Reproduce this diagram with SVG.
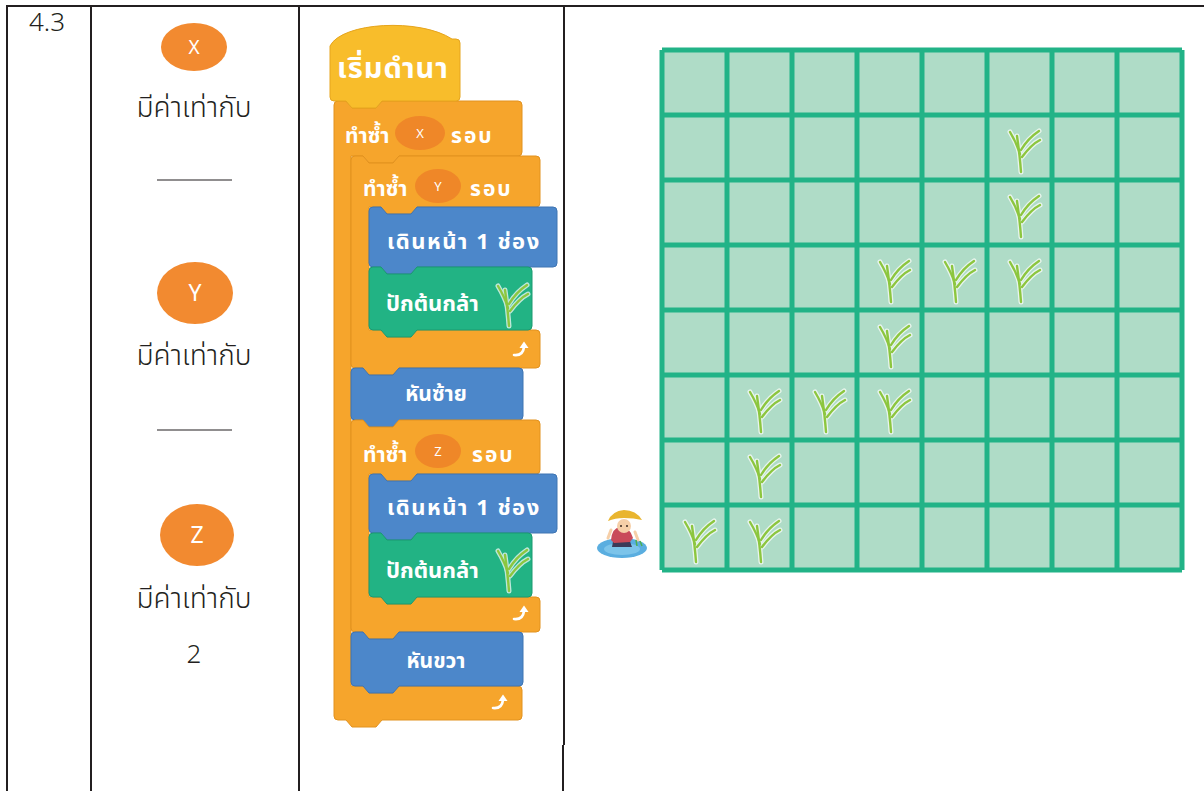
<svg xmlns="http://www.w3.org/2000/svg" xmlns:xlink="http://www.w3.org/1999/xlink" width="1204" height="791" viewBox="0 0 1204 791">
  <style>
    .rule { stroke: #231f20; stroke-width: 2; fill: none; }
    .lbl { font-family: 'Noto Sans Thai', 'Noto Sans', 'DejaVu Sans', sans-serif; fill: #231f20; font-weight: 300; }
    .num { font-family: 'Noto Sans', 'DejaVu Sans', sans-serif; fill: #231f20; font-weight: 300; }
    .var { fill: #f28a30; }
    .vtxt { font-family: 'Noto Sans', 'DejaVu Sans', sans-serif; fill: #ffffff; text-anchor: middle; }
    .blank { stroke: #231f20; stroke-width: 1.2; }
    .hat { fill: #f8bd2b; stroke: #e6a51e; stroke-width: 1; }
    .ctl { fill: #f6a52c; stroke: #e2921f; stroke-width: 1; }
    .mot { fill: #4c87ca; stroke: #3e74b2; stroke-width: 1; }
    .act { fill: #22b384; stroke: #1a9a70; stroke-width: 1; }
    .btxt { font-family: 'Noto Sans Thai', 'Noto Sans', 'DejaVu Sans', sans-serif; fill: #ffffff; font-weight: bold; }
    .slot { fill: #ef8728; }
    .stxt { font-family: 'Noto Sans', 'DejaVu Sans', sans-serif; fill: #ffffff; font-size: 13px; text-anchor: middle; }
    .gridline { stroke: #22b387; stroke-width: 5; fill: none; }
  </style>
  <defs>
    <!-- rice seedling, drawn around its cell centre -->
    <symbol id="seedling" overflow="visible">
      <g fill="none" stroke-linecap="round">
        <g stroke="#ffffff" stroke-width="5" opacity="0.7">
          <path d="M2,24 C1,10 0,2 -2,-12"/>
          <path d="M1,6 C-2,-4 -6,-11 -9,-16"/>
          <path d="M2,2 C8,-8 14,-13 20,-17"/>
          <path d="M3,9 C9,1 15,-5 21,-8"/>
        </g>
        <g stroke="#8cc63f" stroke-width="2.4">
          <path d="M2,24 C1,10 0,2 -2,-12"/>
          <path d="M1,6 C-2,-4 -6,-11 -9,-16"/>
          <path d="M2,2 C8,-8 14,-13 20,-17"/>
          <path d="M3,9 C9,1 15,-5 21,-8"/>
        </g>
      </g>
    </symbol>
    <!-- loop-end arrow of a repeat block -->
    <symbol id="loop" overflow="visible">
      <path d="M-7,5 Q2,6 3,-3" fill="none" stroke="#ffffff" stroke-width="2.6" stroke-linecap="round"/>
      <polygon points="-1.5,-2 7.5,-2 3,-8.5" fill="#ffffff"/>
    </symbol>
  </defs>

  <rect width="1204" height="791" fill="#ffffff"/>

  <!-- table rules -->
  <g id="table">
    <line class="rule" x1="7" y1="6" x2="1204" y2="6"/>
    <line class="rule" x1="7" y1="5" x2="7" y2="791"/>
    <line class="rule" x1="91" y1="6" x2="91" y2="791"/>
    <line class="rule" x1="299" y1="6" x2="299" y2="791"/>
    <line class="rule" x1="564" y1="6" x2="564" y2="745"/>
    <line class="rule" x1="563" y1="745" x2="563" y2="791"/>
  </g>

  <!-- item number -->
  <g id="item-number">
    <text class="num" x="29" y="31" font-size="26">4.3</text>
  </g>

  <!-- variable values -->
  <g id="var-x">
    <ellipse class="var" cx="194" cy="47" rx="33" ry="24"/>
    <text class="vtxt" x="194" y="54" font-size="19">X</text>
    <text class="lbl" x="194" y="117" font-size="28" text-anchor="middle">มีค่าเท่ากับ</text>
    <line class="blank" x1="157" y1="180" x2="232" y2="180"/>
  </g>
  <g id="var-y">
    <ellipse class="var" cx="195" cy="293" rx="38" ry="31"/>
    <text class="vtxt" x="195" y="301" font-size="23">Y</text>
    <text class="lbl" x="194" y="365" font-size="28" text-anchor="middle">มีค่าเท่ากับ</text>
    <line class="blank" x1="157" y1="430" x2="232" y2="430"/>
  </g>
  <g id="var-z">
    <ellipse class="var" cx="197" cy="535" rx="37" ry="31"/>
    <text class="vtxt" x="197" y="543" font-size="23">Z</text>
    <text class="lbl" x="194" y="608" font-size="28" text-anchor="middle">มีค่าเท่ากับ</text>
    <text class="num" x="194" y="663" font-size="26" text-anchor="middle">2</text>
  </g>

  <!-- block program -->
  <g id="program">
    <!-- outer repeat X -->
    <g id="repeat-x">
      <path class="ctl" d="M334,105 Q334,101 338,101 H346 L352,108 H376 L382,101 H518 Q522,101 522,105 V152 Q522,156 518,156 H399 L393,163 H369 L363,156 H351 V686 H363 L369,693 H393 L399,686 H518 Q522,686 522,690 V716 Q522,720 518,720 H382 L376,727 H352 L346,720 H338 Q334,720 334,716 Z"/>
      <text class="btxt" x="345" y="143" font-size="21">ทำซ้ำ</text>
      <ellipse class="slot" cx="420" cy="133" rx="25" ry="17"/>
      <text class="stxt" x="420" y="138">X</text>
      <text class="btxt" x="451" y="143" font-size="21" letter-spacing="2">รอบ</text>
      <use href="#loop" x="500" y="703"/>
    </g>

    <!-- start hat -->
    <g id="start">
      <path class="hat" d="M330,46 C342,22 420,18 452,39 H456 Q460,39 460,43 V97 Q460,101 456,101 H382 L376,108 H352 L346,101 H334 Q330,101 330,97 Z"/>
      <text class="btxt" x="393" y="78" font-size="29" letter-spacing="1" text-anchor="middle">เริ่มดำนา</text>
    </g>

    <!-- repeat Y -->
    <g id="repeat-y">
      <path class="ctl" d="M351,160 Q351,156 355,156 H363 L369,163 H393 L399,156 H536 Q540,156 540,160 V203 Q540,207 536,207 H417 L411,214 H387 L381,207 H369 V330 H381 L387,337 H411 L417,330 H536 Q540,330 540,334 V364 Q540,368 536,368 H399 L393,375 H369 L363,368 H355 Q351,368 351,364 Z"/>
      <text class="btxt" x="363" y="196" font-size="21">ทำซ้ำ</text>
      <ellipse class="slot" cx="438" cy="186" rx="23" ry="17"/>
      <text class="stxt" x="438" y="191">Y</text>
      <text class="btxt" x="470" y="196" font-size="21" letter-spacing="2">รอบ</text>
      <use href="#loop" x="521" y="350"/>
    </g>

    <g id="walk-1">
      <path class="mot" d="M369,211 Q369,207 373,207 H381 L387,214 H411 L417,207 H553 Q557,207 557,211 V263 Q557,267 553,267 H417 L411,274 H387 L381,267 H373 Q369,267 369,263 Z"/>
      <text class="btxt" x="387" y="249" font-size="22" letter-spacing="1.5">เดินหน้า 1 ช่อง</text>
    </g>

    <g id="plant-1">
      <path class="act" d="M369,271 Q369,267 373,267 H381 L387,274 H411 L417,267 H528 Q532,267 532,271 V326 Q532,330 528,330 H417 L411,337 H387 L381,330 H373 Q369,330 369,326 Z"/>
      <text class="btxt" x="386" y="311" font-size="22">ปักต้นกล้า</text>
      <use href="#seedling" x="507" y="302"/>
    </g>

    <g id="turn-left">
      <path class="mot" d="M351,372 Q351,368 355,368 H363 L369,375 H393 L399,368 H519 Q523,368 523,372 V416 Q523,420 519,420 H399 L393,427 H369 L363,420 H355 Q351,420 351,416 Z"/>
      <text class="btxt" x="436" y="401" font-size="21" text-anchor="middle">หันซ้าย</text>
    </g>

    <!-- repeat Z -->
    <g id="repeat-z">
      <path class="ctl" d="M351,424 Q351,420 355,420 H363 L369,427 H393 L399,420 H536 Q540,420 540,424 V470 Q540,474 536,474 H417 L411,481 H387 L381,474 H369 V597 H381 L387,604 H411 L417,597 H536 Q540,597 540,601 V628 Q540,632 536,632 H399 L393,639 H369 L363,632 H355 Q351,632 351,628 Z"/>
      <text class="btxt" x="363" y="462" font-size="21">ทำซ้ำ</text>
      <ellipse class="slot" cx="438" cy="451" rx="23" ry="17"/>
      <text class="stxt" x="438" y="456">Z</text>
      <text class="btxt" x="472" y="462" font-size="21" letter-spacing="2">รอบ</text>
      <use href="#loop" x="521" y="614"/>
    </g>

    <g id="walk-2">
      <path class="mot" d="M369,478 Q369,474 373,474 H381 L387,481 H411 L417,474 H553 Q557,474 557,478 V529 Q557,533 553,533 H417 L411,540 H387 L381,533 H373 Q369,533 369,529 Z"/>
      <text class="btxt" x="387" y="515" font-size="22" letter-spacing="1.5">เดินหน้า 1 ช่อง</text>
    </g>

    <g id="plant-2">
      <path class="act" d="M369,537 Q369,533 373,533 H381 L387,540 H411 L417,533 H528 Q532,533 532,537 V593 Q532,597 528,597 H417 L411,604 H387 L381,597 H373 Q369,597 369,593 Z"/>
      <text class="btxt" x="386" y="578" font-size="22">ปักต้นกล้า</text>
      <use href="#seedling" x="507" y="567"/>
    </g>

    <g id="turn-right">
      <path class="mot" d="M351,636 Q351,632 355,632 H363 L369,639 H393 L399,632 H519 Q523,632 523,636 V682 Q523,686 519,686 H399 L393,693 H369 L363,686 H355 Q351,686 351,682 Z"/>
      <text class="btxt" x="436" y="668" font-size="21" text-anchor="middle">หันขวา</text>
    </g>
  </g>

  <!-- field grid -->
  <g id="field">
    <rect x="662" y="50" width="520" height="520" fill="#afdcc7"/>
    <path class="gridline" d="M662,50 V570 M727,50 V570 M792,50 V570 M857,50 V570 M922,50 V570 M987,50 V570 M1052,50 V570 M1117,50 V570 M1182,50 V570 M662,50 H1182 M662,115 H1182 M662,180 H1182 M662,245 H1182 M662,310 H1182 M662,375 H1182 M662,440 H1182 M662,505 H1182 M662,570 H1182"/>
  </g>

  <!-- planted seedlings -->
  <g id="seedlings">
    <use href="#seedling" x="1019" y="148"/>
    <use href="#seedling" x="1019" y="213"/>
    <use href="#seedling" x="889" y="278"/>
    <use href="#seedling" x="954" y="278"/>
    <use href="#seedling" x="1019" y="278"/>
    <use href="#seedling" x="889" y="343"/>
    <use href="#seedling" x="759" y="408"/>
    <use href="#seedling" x="824" y="408"/>
    <use href="#seedling" x="889" y="408"/>
    <use href="#seedling" x="759" y="473"/>
    <use href="#seedling" x="694" y="538"/>
    <use href="#seedling" x="759" y="538"/>
  </g>

  <!-- farmer in the paddy -->
  <g id="farmer">
    <ellipse cx="622" cy="548" rx="25" ry="10" fill="#5aaee0"/>
    <ellipse cx="622" cy="549" rx="18" ry="6" fill="#7cc4ea"/>
    <path d="M612,547 L614,536 Q620,532 628,536 L632,547 Z" fill="#3b3b5a"/>
    <path d="M611,540 Q612,528 620,527 Q630,527 633,538 L630,542 L614,543 Z" fill="#c94a5a"/>
    <circle cx="624" cy="526" r="7" fill="#f6cfa8"/>
    <circle cx="621" cy="526" r="1" fill="#3a2a20"/>
    <circle cx="627" cy="526" r="1" fill="#3a2a20"/>
    <path d="M608,521 Q612,511 624,510 Q636,510 642,520 Q634,518 624,518 Q615,518 608,521 Z" fill="#e9b52f"/>
    <path d="M611,530 L608,538" stroke="#f6cfa8" stroke-width="3" stroke-linecap="round"/>
    <path d="M635,532 L638,540" stroke="#f6cfa8" stroke-width="3" stroke-linecap="round"/>
    <path d="M636,540 L637,546 M640,541 L642,546" stroke="#4caf50" stroke-width="1.5"/>
  </g>
</svg>
